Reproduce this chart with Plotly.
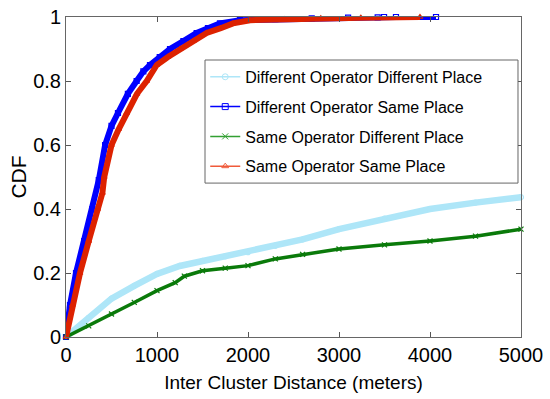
import plotly.graph_objects as go

# Different Operator Different Place
dodp_x = [0, 250, 500, 750, 1000, 1250, 1500, 1750, 2000, 2300, 2600, 3000, 3500, 4000, 4500, 5000]
dodp_y = [0, 0.06, 0.12, 0.16, 0.197, 0.222, 0.238, 0.252, 0.265, 0.285, 0.305, 0.337, 0.37, 0.40, 0.42, 0.437]

# Different Operator Same Place
dosp_x = [0, 44, 110, 200, 290, 360, 430, 500, 571, 680, 776, 850, 923, 1030, 1143, 1290,
          1436, 1560, 1692, 1912, 2300, 2700, 3100, 3425, 3495, 3626, 4066]
dosp_y = [0, 0.1, 0.2, 0.3, 0.4, 0.49, 0.6, 0.66, 0.7, 0.76, 0.8, 0.83, 0.85, 0.875, 0.9, 0.925,
          0.95, 0.965, 0.98, 0.99, 0.993, 0.996, 0.998, 0.999, 1.0, 1.0, 1.0]

# Same Operator Different Place
sodp_x = [0, 250, 500, 750, 1000, 1200, 1300, 1500, 1750, 2000, 2300, 2600, 3000, 3500, 4000, 4500, 5000]
sodp_y = [0, 0.035, 0.072, 0.108, 0.145, 0.17, 0.19, 0.207, 0.215, 0.223, 0.244, 0.258, 0.275, 0.288, 0.30, 0.315, 0.337]

# Same Operator Same Place
sosp_x = [0, 70, 154, 250, 348, 400, 420, 500, 580, 667, 780, 887, 997, 1120, 1253, 1400,
          1546, 1700, 1835, 2022, 2400, 2800, 3240, 3890]
sosp_y = [0, 0.1, 0.2, 0.3, 0.4, 0.45, 0.5, 0.6, 0.65, 0.7, 0.76, 0.8, 0.85, 0.875, 0.9, 0.925,
          0.95, 0.965, 0.98, 0.99, 0.993, 0.996, 0.998, 1.0]

names = ["Different Operator Different Place", "Different Operator Same Place",
         "Same Operator Different Place", "Same Operator Same Place"]
x_ticks = [0, 1000, 2000, 3000, 4000, 5000]
y_ticks = [0, 0.2, 0.4, 0.6, 0.8, 1]
y_tick_labels = ["0", "0.2", "0.4", "0.6", "0.8", "1"]

series = [
    (dodp_x, dodp_y, "#aee6f8", "#aee6f8", "circle-open", 6.5),
    (dosp_x, dosp_y, "#0000ff", "#0000ff", "square-open", 6),
    (sodp_x, sodp_y, "#0a7a0a", "#33a033", "x-thin-open", 3.5),
    (sosp_x, sosp_y, "#dd2200", "#f05a3a", "triangle-up-open", 6),
]

FONT = "Liberation Sans, Arial, sans-serif"

fig = go.Figure()
for (xs, ys, col, legcol, sym, lw), nm in zip(series, names):
    fig.add_trace(go.Scatter(
        x=xs, y=ys, mode="lines+markers", showlegend=False, cliponaxis=False,
        line=dict(color=col, width=lw),
        marker=dict(symbol=sym, size=5, color=col, line=dict(color=col, width=1.2)),
    ))
for (xs, ys, col, legcol, sym, lw), nm in zip(series, names):
    fig.add_trace(go.Scatter(
        x=[None], y=[None], mode="lines+markers", name=nm, legendgroup=nm,
        line=dict(color=legcol, width=1.5),
        marker=dict(symbol=sym, size=6, color=legcol, line=dict(color=legcol, width=1)),
    ))

# legend frame (wider than plotly's auto-sized legend box, as in the original)
fig.add_shape(type="rect", xref="paper", yref="paper",
              x0=0.3055, x1=0.9934, y0=0.481, y1=0.8656,
              line=dict(color="#666666", width=1), fillcolor="white", layer="above")

fig.update_layout(
    width=550, height=399,
    margin=dict(l=66, r=29, t=17, b=62),
    paper_bgcolor="white", plot_bgcolor="white",
    font=dict(family=FONT, color="black"),
    legend=dict(
        x=0.306, y=0.866, xanchor="left", yanchor="top",
        bgcolor="rgba(0,0,0,0)", borderwidth=0,
        font=dict(size=16, family=FONT), tracegroupgap=6, itemwidth=30,
    ),
    xaxis=dict(
        range=[0, 5000], tickvals=x_ticks, ticks="inside", ticklen=5, tickcolor="#555",
        showline=True, linecolor="#666", linewidth=1, mirror="ticks", showgrid=False,
        zeroline=False, tickfont=dict(size=20), automargin=False, ticklabeloverflow="allow",
        title=dict(text="Inter Cluster Distance (meters)", font=dict(size=19), standoff=10),
    ),
    yaxis=dict(
        range=[0, 1], tickvals=y_ticks, ticktext=y_tick_labels, ticks="inside", ticklen=5,
        tickcolor="#555", showline=True, linecolor="#666", linewidth=1, mirror="ticks",
        showgrid=False, zeroline=False, tickfont=dict(size=20), automargin=False,
        ticklabeloverflow="allow",
        title=dict(text="CDF", font=dict(size=21), standoff=0),
    ),
)

fig.write_html("out.html", config={"displayModeBar": False},
               post_script="document.body.style.margin='0';")
